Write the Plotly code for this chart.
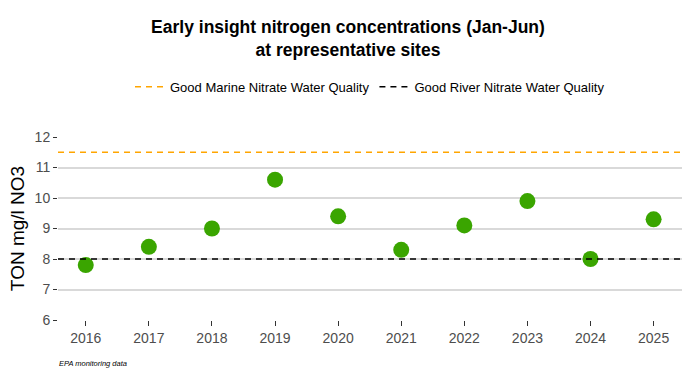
import plotly.graph_objects as go

years = [2016, 2017, 2018, 2019, 2020, 2021, 2022, 2023, 2024, 2025]
ton_values = [7.8, 8.4, 9.0, 10.6, 9.4, 8.3, 9.1, 9.9, 8.0, 9.3]
marine_threshold = 11.5
river_threshold = 8.0
y_ticks = [6, 7, 8, 9, 10, 11, 12]

FONT = "Liberation Sans, Arial, sans-serif"
x_range = [years[0] - 0.44, years[-1] + 0.45]

fig = go.Figure()

fig.add_trace(go.Scatter(
    x=years, y=ton_values, mode="markers",
    marker=dict(color="#3AA500", size=16, line=dict(width=0)),
    showlegend=False, hoverinfo="x+y",
))

for name, val, col in [("Good Marine Nitrate Water Quality", marine_threshold, "#FFA500"),
                        ("Good River Nitrate Water Quality", river_threshold, "#000000")]:
    fig.add_trace(go.Scatter(
        x=x_range, y=[val, val], mode="lines", name=name,
        line=dict(color=col, width=1.5, dash="6px,5px"),
        cliponaxis=True,
    ))

fig.update_layout(
    width=696, height=375,
    margin=dict(l=58, r=14, t=137, b=55),
    paper_bgcolor="white", plot_bgcolor="white",
    font=dict(family=FONT, color="#4d4d4d"),
    title=dict(
        text="<b>Early insight nitrogen concentrations (Jan-Jun)<br>at representative sites</b>",
        x=0.5, xanchor="center", xref="container",
        y=0.912, yanchor="middle", yref="container",
        font=dict(size=17.5, color="black", family=FONT),
    ),
    legend=dict(
        orientation="h", x=0.5, xanchor="center", y=1.275, yanchor="middle",
        font=dict(size=13, color="black"), itemwidth=30,
        bgcolor="rgba(0,0,0,0)",
    ),
    showlegend=True,
    annotations=[dict(
        text="<i>EPA monitoring data</i>", xref="paper", yref="paper",
        x=-0.002, y=-0.235, xanchor="left", yanchor="middle", showarrow=False,
        font=dict(size=7.5, color="black", family=FONT),
    )],
)

fig.update_xaxes(
    range=x_range, tickmode="array", tickvals=years, ticktext=[str(y) for y in years],
    showgrid=False, zeroline=False, showline=False,
    ticks="outside", ticklen=5, tickwidth=1, tickcolor="#333333",
    tickfont=dict(size=14, color="#4d4d4d"),
)
fig.update_yaxes(
    range=[6, 12], tickmode="array", tickvals=y_ticks,
    showgrid=True, gridcolor="#d9d9d9", gridwidth=1.5, zeroline=False, showline=False,
    ticks="outside", ticklen=4, tickwidth=1, tickcolor="#333333",
    tickfont=dict(size=14, color="#4d4d4d"),
    title=dict(text="TON mg/l NO3", font=dict(size=19, color="black"), standoff=4),
)

fig.write_html("out.html", config={"displayModeBar": False},
               post_script="document.body.style.margin='0';document.body.style.overflow='hidden';")
